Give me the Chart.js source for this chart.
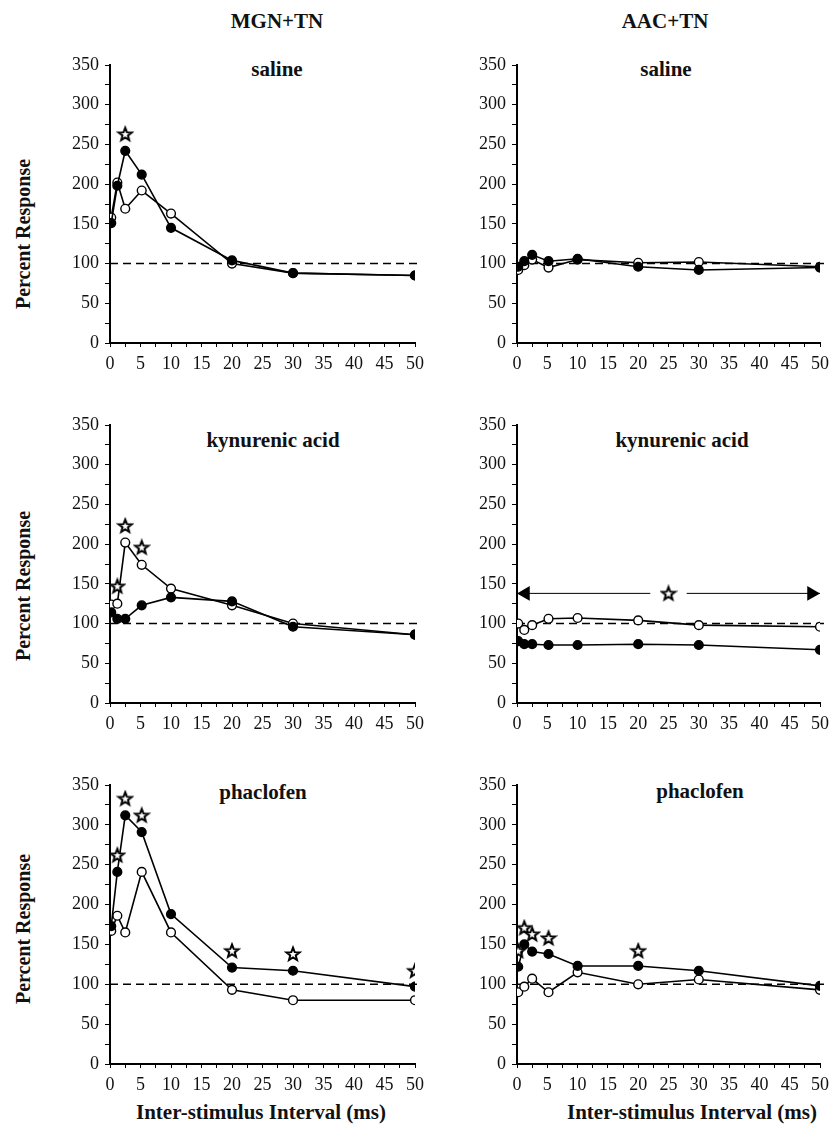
<!DOCTYPE html>
<html><head><meta charset="utf-8">
<script src="https://cdn.jsdelivr.net/npm/chart.js@4.4.1/dist/chart.umd.min.js"></script>
<style>
body{margin:0;background:#fff;width:835px;height:1126px;position:relative;overflow:hidden;font-family:"Liberation Serif","Times New Roman",serif;}
.t{position:absolute;font-weight:bold;font-size:21px;line-height:1;transform:translate(-50%,-50%);white-space:nowrap;color:#111;}
.yt{position:absolute;font-weight:bold;font-size:20px;line-height:1;transform:translate(-50%,-50%) rotate(-90deg);white-space:nowrap;color:#111;}
canvas{position:absolute}
</style></head><body>
<div class="t" style="left:277px;top:21px">MGN+TN</div>
<div class="t" style="left:665px;top:21px">AAC+TN</div>

<div class="t" style="left:277px;top:69px">saline</div>
<div class="t" style="left:666px;top:69px">saline</div>
<div class="t" style="left:273px;top:440px">kynurenic acid</div>
<div class="t" style="left:682px;top:440px">kynurenic acid</div>
<div class="t" style="left:263px;top:792px">phaclofen</div>
<div class="t" style="left:700px;top:791px">phaclofen</div>

<div class="yt" style="left:23px;top:234px">Percent Response</div>
<div class="yt" style="left:23px;top:586px">Percent Response</div>
<div class="yt" style="left:23px;top:929px">Percent Response</div>

<div class="t" style="left:261px;top:1112px">Inter-stimulus Interval (ms)</div>
<div class="t" style="left:692px;top:1112px">Inter-stimulus Interval (ms)</div>

<canvas id="c1" width="430" height="338" style="left:0;top:40px"></canvas>
<canvas id="c2" width="405" height="338" style="left:430px;top:40px"></canvas>
<canvas id="c3" width="430" height="338" style="left:0;top:400px"></canvas>
<canvas id="c4" width="405" height="338" style="left:430px;top:400px"></canvas>
<canvas id="c5" width="430" height="339" style="left:0;top:760px"></canvas>
<canvas id="c6" width="405" height="339" style="left:430px;top:760px"></canvas>

<script>
// ---- data ----
const isi = [0.2, 1.2, 2.5, 5.2, 10, 20, 30, 50];
const refX = [0, 51];
const refY = [100, 100];

const mgnSalineFilled = [151, 198, 242, 212, 145, 104, 88, 85];
const mgnSalineOpen   = [158, 202, 169, 192, 163, 100, 88, 85];
const mgnSalineStarX  = [2.5];
const mgnSalineStarY  = [263];

const aacSalineFilled = [96, 103, 111, 103, 106, 96, 92, 95];
const aacSalineOpen   = [92, 98, 105, 95, 105, 101, 102, 96];

const mgnKynFilled = [114, 106, 106, 123, 133, 128, 96, 86];
const mgnKynOpen   = [124, 125, 202, 174, 144, 123, 100, 86];
const mgnKynStarX  = [1.2, 2.5, 5.2];
const mgnKynStarY  = [147, 223, 196];

const aacKynFilled = [78, 74, 74, 73, 73, 74, 73, 67];
const aacKynOpen   = [100, 92, 98, 106, 107, 104, 98, 96];
const aacKynStarX  = [25];
const aacKynStarY  = [138];
const arrowLeftX   = [0, 22];
const arrowRightX  = [28, 50];
const arrowY       = 138;
const arrowHeadX   = [1.4, 48.6];

const mgnPhacFilled = [173, 241, 312, 291, 188, 121, 117, 97];
const mgnPhacOpen   = [167, 186, 165, 241, 165, 93, 80, 80];
const mgnPhacStarX  = [1.2, 2.5, 5.2, 20, 30, 50];
const mgnPhacStarY  = [262, 333, 312, 142, 138, 117];

const aacPhacFilled = [122, 150, 141, 138, 123, 123, 117, 98];
const aacPhacOpen   = [90, 97, 107, 90, 115, 100, 106, 93];
const aacPhacStarX  = [0.2, 1.2, 2.5, 5.2, 20];
const aacPhacStarY  = [142, 171, 163, 158, 142];

const xTicksMax = 50, yTicksMax = 350;

// ---- star marker ----
function makeStar() {
  const c = document.createElement('canvas');
  c.width = 18; c.height = 18;
  const g = c.getContext('2d');
  const cx = 9, cy = 9.5, R = 6.8, r = 2.9;
  g.beginPath();
  for (let i = 0; i < 10; i++) {
    const a = -Math.PI / 2 + i * Math.PI / 5;
    const rr = i % 2 === 0 ? R : r;
    const px = cx + rr * Math.cos(a), py = cy + rr * Math.sin(a);
    if (i === 0) g.moveTo(px, py); else g.lineTo(px, py);
  }
  g.closePath();
  g.fillStyle = '#fff'; g.fill();
  g.lineWidth = 2; g.lineJoin = 'miter'; g.strokeStyle = '#000'; g.stroke();
  return c;
}
const starImg = makeStar();

const pts = (xs, ys) => xs.map((x, i) => ({x: x, y: ys[i]}));

function seriesDs(vals, filled) {
  return {
    type: 'line',
    data: pts(isi, vals),
    borderColor: '#000', borderWidth: 1.6,
    pointRadius: 4.4, pointHoverRadius: 4.4,
    pointBackgroundColor: filled ? '#000' : '#fff',
    pointBorderColor: '#000', pointBorderWidth: 1.4,
    tension: 0, order: filled ? 1 : 2
  };
}
function refDs() {
  return {
    type: 'line', data: pts(refX, refY), borderColor: '#000', borderWidth: 1.4,
    borderDash: [8, 5], pointRadius: 0, order: 4, clip: false
  };
}
function starDs(xs, ys) {
  return {
    type: 'line', data: pts(xs, ys), showLine: false,
    pointStyle: starImg, pointRadius: 7, order: 0
  };
}

function makeChart(id, yWidth, datasets) {
  const font = {family: '"Liberation Serif","Times New Roman",serif', size: 18};
  return new Chart(document.getElementById(id), {
    type: 'line',
    data: {datasets: datasets},
    options: {
      responsive: false, animation: false, devicePixelRatio: 1,
      layout: {padding: {top: 25, right: 10, left: 0, bottom: 0}},
      plugins: {legend: {display: false}, tooltip: {enabled: false}},
      scales: {
        x: {
          type: 'linear', min: 0, max: xTicksMax,
          ticks: {stepSize: 2.5, autoSkip: false, maxRotation: 0, color: '#111', font: font, padding: 6,
                  callback: v => (v % 5 === 0 ? String(v) : '')},
          grid: {drawOnChartArea: false, drawTicks: true, tickLength: 4, color: '#000', lineWidth: 1},
          border: {display: true, color: '#000', width: 2},
          afterFit: s => { s.height = 35; }
        },
        y: {
          type: 'linear', min: 0, max: yTicksMax,
          ticks: {stepSize: 25, autoSkip: false, color: '#111', font: font, padding: 6,
                  callback: v => (v % 50 === 0 ? String(v) : '')},
          grid: {drawOnChartArea: false, drawTicks: true, tickLength: 5, color: '#000', lineWidth: 1},
          border: {display: true, color: '#000', width: 2},
          afterFit: s => { s.width = yWidth; }
        }
      }
    }
  });
}

makeChart('c1', 110, [refDs(), seriesDs(mgnSalineOpen, false), seriesDs(mgnSalineFilled, true), starDs(mgnSalineStarX, mgnSalineStarY)]);
makeChart('c2', 87,  [refDs(), seriesDs(aacSalineOpen, false), seriesDs(aacSalineFilled, true)]);
makeChart('c3', 110, [refDs(), seriesDs(mgnKynOpen, false), seriesDs(mgnKynFilled, true), starDs(mgnKynStarX, mgnKynStarY)]);
makeChart('c4', 87,  [refDs(), seriesDs(aacKynOpen, false), seriesDs(aacKynFilled, true), starDs(aacKynStarX, aacKynStarY),
  {type: 'line', data: pts(arrowLeftX, [arrowY, arrowY]), borderColor: '#000', borderWidth: 1, pointRadius: 0, order: 3},
  {type: 'line', data: pts(arrowRightX, [arrowY, arrowY]), borderColor: '#000', borderWidth: 1, pointRadius: 0, order: 3},
  {type: 'line', data: pts(arrowHeadX, [arrowY, arrowY]), showLine: false, pointStyle: 'triangle',
   pointRotation: [-90, 90], pointRadius: 8.5, pointBackgroundColor: '#000', pointBorderColor: '#000', pointBorderWidth: 0, order: 0}
]);
makeChart('c5', 110, [refDs(), seriesDs(mgnPhacOpen, false), seriesDs(mgnPhacFilled, true), starDs(mgnPhacStarX, mgnPhacStarY)]);
makeChart('c6', 87,  [refDs(), seriesDs(aacPhacOpen, false), seriesDs(aacPhacFilled, true), starDs(aacPhacStarX, aacPhacStarY)]);
</script>
</body></html>
